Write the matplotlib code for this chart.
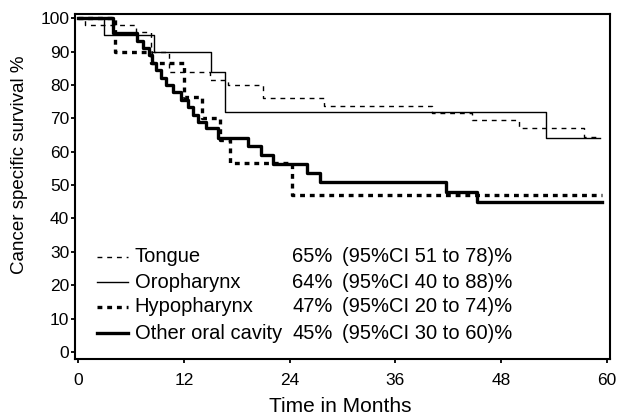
import matplotlib.pyplot as plt

plt.rcParams['font.family'] = ['Liberation Sans', 'DejaVu Sans']
plt.rcParams['lines.scale_dashes'] = False

# Kaplan-Meier step data (months, survival %)
tongue_t = [0, 0.7, 6.5, 8.3, 10.3, 14.9, 17.0, 21.0, 27.9, 40.2, 44.7, 50.1, 57.4, 59.3]
tongue_s = [100, 98, 96, 90, 84, 81.6, 80, 76, 73.7, 71.5, 69.5, 67.2, 64.5, 64.5]

oro_t = [0, 2.9, 8.6, 15.1, 16.7, 53.1, 59.3]
oro_s = [100, 95, 90, 84, 72, 64, 64]

hypo_t = [0, 4.1, 8.2, 12.0, 14.0, 16.1, 17.2, 24.3, 59.5]
hypo_s = [100, 90, 86.5, 76.5, 70, 63.5, 56.7, 47, 47]

other_t = [0, 3.9, 6.6, 7.3, 8.0, 8.4, 8.8, 9.4, 10.0, 10.7, 11.6, 12.4, 13.0,
           13.6, 14.5, 15.9, 19.3, 20.7, 22.1, 26.0, 27.5, 41.8, 45.3, 59.5]
other_s = [100, 95.6, 93.3, 91.1, 88.9, 86.7, 84.4, 82.2, 80.0, 77.8, 75.6, 73.3, 71.1,
           68.9, 67.0, 64.2, 61.6, 59.0, 56.3, 53.5, 51.0, 47.8, 45.0, 45.0]

names = ['Tongue', 'Oropharynx', 'Hypopharynx', 'Other oral cavity']
pcts = ['65%', '64%', '47%', '45%']
cis = ['(95%CI 51 to 78)%', '(95%CI 40 to 88)%', '(95%CI 20 to 74)%', '(95%CI 30 to 60)%']

styles = [dict(lw=1.0, dashes=(3.5, 3.5)),
          dict(lw=1.0),
          dict(lw=2.4, dashes=(3.5, 3.5)),
          dict(lw=2.4)]

fig = plt.figure(figsize=(6.19, 4.16), dpi=100)
ax = fig.add_axes([0.121, 0.137, 0.8645, 0.829])

series = [(tongue_t, tongue_s), (oro_t, oro_s), (hypo_t, hypo_s), (other_t, other_s)]
for (t, s), st in zip(series, styles):
    ax.step(t, s, where='post', color='black', **st)

ax.set_xlim(-0.4, 60.4)
ax.set_ylim(-2.1, 101.2)
ax.set_xticks(range(0, 61, 12))
ax.set_yticks(range(0, 101, 10))
ax.tick_params(direction='out', length=3, width=1.3, labelsize=12.5, colors='black')
ax.tick_params(axis='x', pad=7)
ax.tick_params(axis='y', pad=1)
for sp in ax.spines.values():
    sp.set_linewidth(1.5)

ax.set_xlabel('Time in Months', fontsize=15)
ax.set_ylabel('Cancer specific survival %', fontsize=13.5)
ax.xaxis.set_label_coords(0.495, -0.11)
ax.yaxis.set_label_coords(-0.088, 0.562)

# legend drawn by hand so the percentage columns line up
rows_y = [0.2965, 0.2223, 0.1516, 0.0754]
for y, name, p, ci, st in zip(rows_y, names, pcts, cis, styles):
    ax.plot([0.0405, 0.0996], [y, y], transform=ax.transAxes, color='black', **st)
    ax.text(0.112, y, name, transform=ax.transAxes, va='center', fontsize=14.5)
    ax.text(0.406, y, p, transform=ax.transAxes, va='center', fontsize=14.5)
    ax.text(0.5, y, ci, transform=ax.transAxes, va='center', fontsize=14.5)

fig.savefig('out.png', dpi=100)
